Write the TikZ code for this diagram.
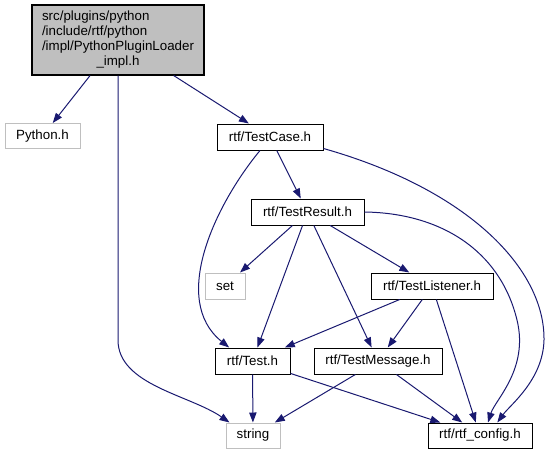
\documentclass[tikz,border=0pt]{standalone}
\usepackage{fontspec}
\setmainfont{Liberation Sans}
\usepackage{tikz}
\usetikzlibrary{arrows.meta,calc}
\definecolor{navyedge}{HTML}{191970}
\definecolor{hdrfill}{HTML}{BFBFBF}

\begin{document}
\begin{tikzpicture}[x=0.75pt,y=-0.75pt,font=\fontsize{10}{12}\selectfont,
  hdr/.style={draw=black,line width=0.75pt,inner sep=0pt,minimum height=19.5pt},
  ext/.style={draw=black!25,line width=0.75pt,inner sep=0pt,minimum height=18.75pt},
  dep/.style={draw=navyedge,line width=0.75pt,-{Triangle[length=7.5pt,width=5.5pt,fill=navyedge]}}]
\useasboundingbox (0,0) rectangle (550,455);
% file of this graph
\node[draw=black,fill=hdrfill,line width=0.8pt,inner sep=0pt,minimum width=129pt,minimum height=52.5pt] (main) at (118,40)
  {\renewcommand{\arraystretch}{0.94}\begin{tabular}{@{}l@{}}src/plugins/python\\/include/rtf/python\\/impl/PythonPluginLoader\\\multicolumn{1}{@{}c@{}}{\_impl.h}\end{tabular}};
% headers
\node[ext,minimum width=56.25pt] (python) at (42.5,136) {Python.h};
\node[hdr,minimum width=79.5pt] (testcase) at (270,137) {rtf/TestCase.h};
\node[hdr,minimum width=84.75pt] (testresult) at (307.5,212) {rtf/TestResult.h};
\node[ext,minimum width=30pt,minimum height=19.5pt] (set) at (225,286) {set};
\node[hdr,minimum width=91.5pt] (testlistener) at (432,286) {rtf/TestListener.h};
\node[hdr,minimum width=56.25pt] (test) at (252.5,361) {rtf/Test.h};
\node[hdr,minimum width=96pt] (testmessage) at (378,361) {rtf/TestMessage.h};
\node[ext,minimum width=40.5pt] (string) at (253,435.5) {string};
\node[hdr,minimum width=78pt,minimum height=18.75pt] (rtfconfig) at (480,435.5) {rtf/rtf\_config.h};
% straight includes
\foreach \a/\b in {main/python,main/testcase,testcase/testresult,testresult/set,testresult/test,
  testresult/testmessage,testresult/testlistener,testlistener/test,testlistener/testmessage,
  testlistener/rtfconfig,test/string,test/rtfconfig,testmessage/string,testmessage/rtfconfig}
  {\draw[dep] (\a) -- (\b);}
% bent includes
\draw[dep] (main.south) -- (118,340) .. controls (118,385) and (190,395) .. ([xshift=3pt]string.north west);
\draw[dep] ([xshift=-7.5pt]testcase.south) .. controls (215,205) and (170,300) .. ([xshift=11pt]test.north west);
\draw[dep] ([yshift=1.5pt]testcase.south east) .. controls (470,190) and (545,270) .. (544,340)
  .. controls (543,380) and (510,405) .. ([xshift=13pt]rtfconfig.north);
\draw[dep] (testresult.east) .. controls (440,213) and (500,250) .. (517,320)
  .. controls (529,369) and (495,400) .. ([xshift=6pt]rtfconfig.north);
\end{tikzpicture}
\end{document}
